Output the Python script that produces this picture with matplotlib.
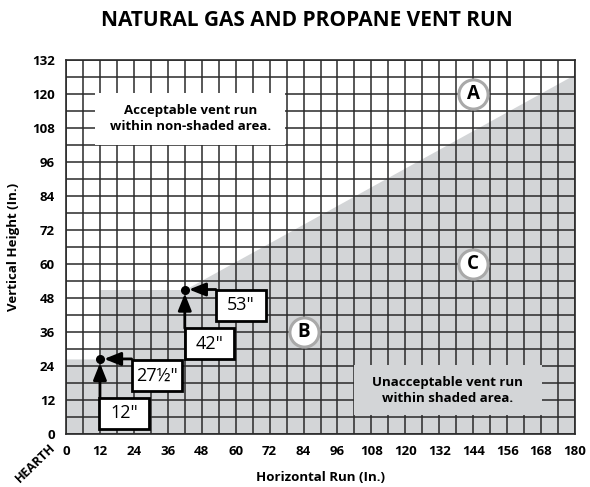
import matplotlib
matplotlib.use('Agg')
import matplotlib.pyplot as plt
from matplotlib.patches import Rectangle

plt.rcParams['font.family'] = ['Open Sans', 'DejaVu Sans']

# Vent run limits (inches)
shade_x = [0, 12, 12, 42, 180]
shade_y = [26.5, 26.5, 51, 51, 127]

# Break points marked on the chart
point_x = [12, 42]
point_y = [26.5, 51]

x_ticks = list(range(0, 181, 12))
y_ticks = list(range(0, 133, 12))

region_names = ['A', 'B', 'C']
region_x = [144, 84, 144]
region_y = [120, 36, 60]

SHADE = '#d3d5d7'
GRID = '#2a2a2a'

fig = plt.figure(figsize=(5.9, 4.87), dpi=100)
ax = fig.add_axes([0.1119, 0.1088, 0.8627, 0.768])

ax.fill_between(shade_x, shade_y, 0, color=SHADE, lw=0, zorder=0)

ax.set_xlim(0, 180)
ax.set_ylim(0, 132)
ax.set_xticks(x_ticks)
ax.set_yticks(y_ticks)
ax.set_xticks(range(0, 181, 6), minor=True)
ax.set_yticks(range(0, 133, 6), minor=True)
ax.set_axisbelow(True)
ax.grid(which='both', color=GRID, lw=1.1)
ax.tick_params(which='both', length=0)
ax.tick_params(axis='x', pad=8)
ax.tick_params(axis='y', pad=8)
for lab in ax.get_xticklabels() + ax.get_yticklabels():
    lab.set_fontweight('bold')
    lab.set_fontsize(9.5)
for sp in ax.spines.values():
    sp.set_color(GRID)
    sp.set_linewidth(1.2)

ax.set_xlabel('Horizontal Run (In.)', fontsize=9.5, fontweight='bold', labelpad=9)
ax.set_ylabel('Vertical Height (In.)', fontsize=9.5, fontweight='bold', labelpad=9)
fig.text(0.52, 0.957, 'NATURAL GAS AND PROPANE VENT RUN', ha='center', va='center',
         fontsize=15, fontweight='bold')
fig.text(0.06, 0.05, 'HEARTH', rotation=44, ha='center', va='center',
         fontsize=9, fontweight='bold')

# Note boxes that blank out the grid behind them
ax.add_patch(Rectangle((10.3, 102), 67.1, 18.3, facecolor='white', edgecolor='none', zorder=2))
ax.text(44, 111.2, 'Acceptable vent run\nwithin non-shaded area.', ha='center', va='center',
        fontsize=9.5, fontweight='bold', linespacing=1.3, zorder=3)
ax.add_patch(Rectangle((101.8, 6.7), 66.7, 17.7, facecolor=SHADE, edgecolor='none', zorder=2))
ax.text(135, 15.5, 'Unacceptable vent run\nwithin shaded area.', ha='center', va='center',
        fontsize=9.5, fontweight='bold', linespacing=1.3, zorder=3)

# Dimension boxes
dims = [
    ((11.8, 1.8), 17.5, 11.0, '12"'),
    ((23.2, 15.2), 17.7, 10.9, '27½"'),
    ((42, 26.5), 17.3, 10.8, '42"'),
    ((53, 40), 17.7, 10.8, '53"'),
]
for (x0, y0), w, h, txt in dims:
    ax.add_patch(Rectangle((x0, y0), w, h, facecolor='white', edgecolor='black',
                           lw=2, zorder=4))
    ax.text(x0 + w / 2, y0 + h / 2, txt, ha='center', va='center', fontsize=13, zorder=5)

arrow = dict(arrowstyle='-|>,head_length=1.0,head_width=0.4', color='black', lw=2,
             shrinkA=0, shrinkB=3)
ax.annotate('', xy=(point_x[0], point_y[0]), xytext=(point_x[0], 12.8), arrowprops=arrow, zorder=6)
ax.annotate('', xy=(point_x[0], point_y[0]), xytext=(23.2, point_y[0]), arrowprops=arrow, zorder=6)
ax.annotate('', xy=(point_x[1], point_y[1]), xytext=(point_x[1], 37.3), arrowprops=arrow, zorder=6)
ax.annotate('', xy=(point_x[1], point_y[1]), xytext=(53, point_y[1]), arrowprops=arrow, zorder=6)
ax.plot(point_x, point_y, 'o', color='black', ms=5.5, zorder=7, clip_on=False)

for name, rx, ry in zip(region_names, region_x, region_y):
    ax.plot(rx, ry, 'o', ms=21, mfc='white', mec='#a9a9a9', mew=2.2, zorder=6)
    ax.text(rx, ry, name, ha='center', va='center', fontsize=13.5, fontweight='bold', zorder=7)

fig.savefig('out.png', dpi=100)
